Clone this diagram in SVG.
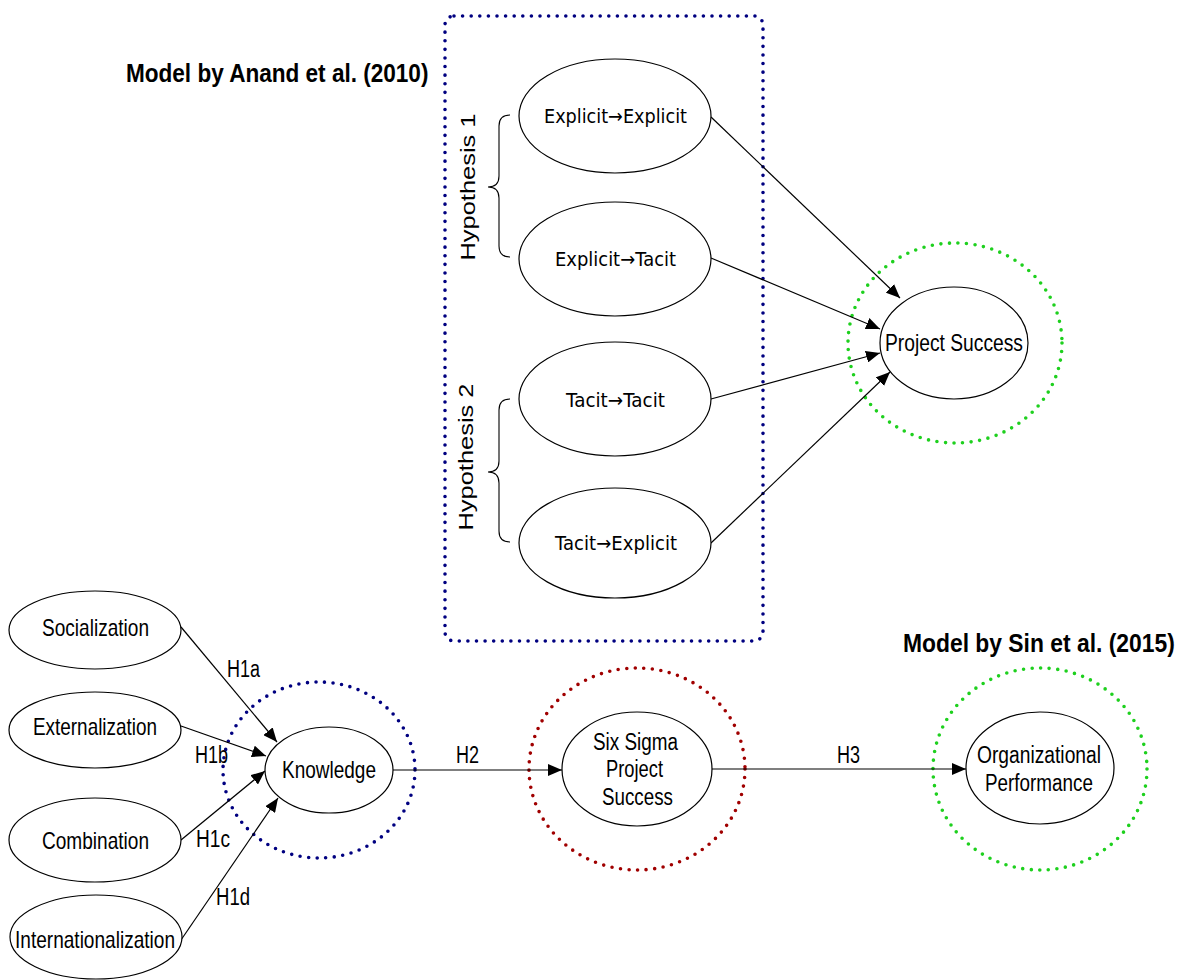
<svg xmlns="http://www.w3.org/2000/svg" width="1186" height="980" viewBox="0 0 1186 980">
  <defs>
    <marker id="head" markerUnits="userSpaceOnUse" markerWidth="14" markerHeight="12" refX="14" refY="6" orient="auto">
      <path d="M0,0 L14,6 L0,12 Z" fill="#000"/>
    </marker>
    <style>
      .node { fill: #fff; stroke: #000; stroke-width: 1.2; }
      .lbl { font-family: "Liberation Sans Narrow", "Liberation Sans", Arial, sans-serif; fill: #000; text-anchor: middle; }
      .flow { font-family: "DejaVu Sans", sans-serif; fill: #000; text-anchor: middle; }
      .title { font-family: "Liberation Sans", Arial, sans-serif; font-weight: bold; fill: #000; }
      .hyp { font-family: "Liberation Sans", Arial, sans-serif; fill: #000; text-anchor: middle; }
      .edge { stroke: #000; stroke-width: 1.2; fill: none; marker-end: url(#head); }
      .brace { stroke: #000; stroke-width: 1.1; fill: none; }
      .dots { fill: none; stroke-width: 3.6; stroke-linecap: round; stroke-dasharray: 0 8.6; }
      .navy { stroke: #000080; }
      .red { stroke: #a00000; }
      .green { stroke: #1ed01e; }
    </style>
  </defs>

  <rect width="1186" height="980" fill="#fff"/>

  <!-- model titles (condensed bold) -->
  <text class="title" transform="translate(126,82) scale(0.9,1)" font-size="25" textLength="336" lengthAdjust="spacingAndGlyphs">Model by Anand et al. (2010)</text>
  <text class="title" transform="translate(903,652) scale(0.915,1)" font-size="25" textLength="297" lengthAdjust="spacingAndGlyphs">Model by Sin et al. (2015)</text>

  <!-- highlight outlines -->
  <g id="highlights">
    <rect class="dots navy" x="445" y="16" width="318" height="625" rx="9"/>
    <ellipse class="dots green" cx="955" cy="343" rx="107" ry="100"/>
    <ellipse class="dots navy" cx="319" cy="770" rx="96" ry="88"/>
    <ellipse class="dots red" cx="637" cy="769" rx="108" ry="101"/>
    <ellipse class="dots green" cx="1040" cy="769" rx="107" ry="101"/>
  </g>

  <!-- hypothesis braces -->
  <g id="hypothesis-1">
    <path class="brace" d="M510,115 Q499,115 499,126 L499,176 Q499,187 488,187 Q499,187 499,198 L499,246 Q499,257 510,257"/>
    <text class="hyp" transform="translate(475,187) rotate(-90)" font-size="21" textLength="147" lengthAdjust="spacingAndGlyphs">Hypothesis 1</text>
  </g>
  <g id="hypothesis-2">
    <path class="brace" d="M510,399 Q499,399 499,410 L499,461 Q499,472 488,472 Q499,472 499,483 L499,531 Q499,542 510,542"/>
    <text class="hyp" transform="translate(473,457) rotate(-90)" font-size="21" textLength="147" lengthAdjust="spacingAndGlyphs">Hypothesis 2</text>
  </g>

  <!-- connectors -->
  <g id="connectors">
    <line class="edge" x1="711" y1="117" x2="900" y2="298"/>
    <line class="edge" x1="711" y1="258" x2="880" y2="329"/>
    <line class="edge" x1="711" y1="399" x2="880" y2="353"/>
    <line class="edge" x1="711" y1="543" x2="890" y2="372"/>
    <line class="edge" x1="181" y1="627" x2="277" y2="742"/>
    <line class="edge" x1="181" y1="726" x2="266" y2="756"/>
    <line class="edge" x1="181" y1="840" x2="265" y2="771"/>
    <line class="edge" x1="181" y1="940" x2="278" y2="798"/>
    <line class="edge" x1="393" y1="770" x2="562" y2="770"/>
    <line class="edge" x1="712" y1="769" x2="966" y2="769"/>
    <text class="lbl" x="243.5" y="677" font-size="23" textLength="33" lengthAdjust="spacingAndGlyphs">H1a</text>
    <text class="lbl" x="211.5" y="763" font-size="23" textLength="33" lengthAdjust="spacingAndGlyphs">H1b</text>
    <text class="lbl" x="213" y="847" font-size="23" textLength="34" lengthAdjust="spacingAndGlyphs">H1c</text>
    <text class="lbl" x="233" y="905" font-size="23" textLength="34" lengthAdjust="spacingAndGlyphs">H1d</text>
    <text class="lbl" x="467.5" y="763" font-size="23" textLength="23" lengthAdjust="spacingAndGlyphs">H2</text>
    <text class="lbl" x="848.5" y="763" font-size="23" textLength="23" lengthAdjust="spacingAndGlyphs">H3</text>
  </g>

  <!-- Anand et al. constructs -->
  <g id="explicit-explicit">
    <ellipse class="node" cx="615" cy="116" rx="96" ry="57"/>
    <text class="flow" x="615.5" y="123" font-size="19.5" textLength="143" lengthAdjust="spacingAndGlyphs">Explicit→Explicit</text>
  </g>
  <g id="explicit-tacit">
    <ellipse class="node" cx="615" cy="259" rx="96" ry="57"/>
    <text class="flow" x="615.5" y="266" font-size="19.5" textLength="121" lengthAdjust="spacingAndGlyphs">Explicit→Tacit</text>
  </g>
  <g id="tacit-tacit">
    <ellipse class="node" cx="615" cy="399" rx="96" ry="57"/>
    <text class="flow" x="615.5" y="407" font-size="19.5" textLength="99" lengthAdjust="spacingAndGlyphs">Tacit→Tacit</text>
  </g>
  <g id="tacit-explicit">
    <ellipse class="node" cx="615" cy="543" rx="96" ry="55"/>
    <text class="flow" x="616" y="550" font-size="19.5" textLength="122" lengthAdjust="spacingAndGlyphs">Tacit→Explicit</text>
  </g>
  <g id="project-success">
    <ellipse class="node" cx="954" cy="343" rx="74" ry="56"/>
    <text class="lbl" x="954" y="351" font-size="24" textLength="138" lengthAdjust="spacingAndGlyphs">Project Success</text>
  </g>

  <!-- Sin et al. constructs -->
  <g id="socialization">
    <ellipse class="node" cx="95" cy="630" rx="86" ry="39"/>
    <text class="lbl" x="95.5" y="636" font-size="24" textLength="107" lengthAdjust="spacingAndGlyphs">Socialization</text>
  </g>
  <g id="externalization">
    <ellipse class="node" cx="95" cy="730" rx="86" ry="38"/>
    <text class="lbl" x="95" y="735" font-size="24" textLength="124" lengthAdjust="spacingAndGlyphs">Externalization</text>
  </g>
  <g id="combination">
    <ellipse class="node" cx="95" cy="840" rx="86" ry="42"/>
    <text class="lbl" x="95.5" y="849" font-size="24" textLength="107" lengthAdjust="spacingAndGlyphs">Combination</text>
  </g>
  <g id="internationalization">
    <ellipse class="node" cx="96" cy="937" rx="86" ry="42"/>
    <text class="lbl" x="95" y="948" font-size="24" textLength="160" lengthAdjust="spacingAndGlyphs">Internationalization</text>
  </g>
  <g id="knowledge">
    <ellipse class="node" cx="329" cy="770" rx="64" ry="43"/>
    <text class="lbl" x="329" y="778" font-size="24" textLength="94" lengthAdjust="spacingAndGlyphs">Knowledge</text>
  </g>
  <g id="six-sigma-project-success">
    <ellipse class="node" cx="637" cy="769" rx="75" ry="57"/>
    <text class="lbl" x="635.5" y="750" font-size="23" textLength="85" lengthAdjust="spacingAndGlyphs">Six Sigma</text>
    <text class="lbl" x="634.5" y="777" font-size="23" textLength="57" lengthAdjust="spacingAndGlyphs">Project</text>
    <text class="lbl" x="637.5" y="805" font-size="23" textLength="71" lengthAdjust="spacingAndGlyphs">Success</text>
  </g>
  <g id="organizational-performance">
    <ellipse class="node" cx="1040" cy="768" rx="74" ry="56"/>
    <text class="lbl" x="1039" y="763" font-size="23" textLength="124" lengthAdjust="spacingAndGlyphs">Organizational</text>
    <text class="lbl" x="1039" y="791" font-size="23" textLength="108" lengthAdjust="spacingAndGlyphs">Performance</text>
  </g>
</svg>
